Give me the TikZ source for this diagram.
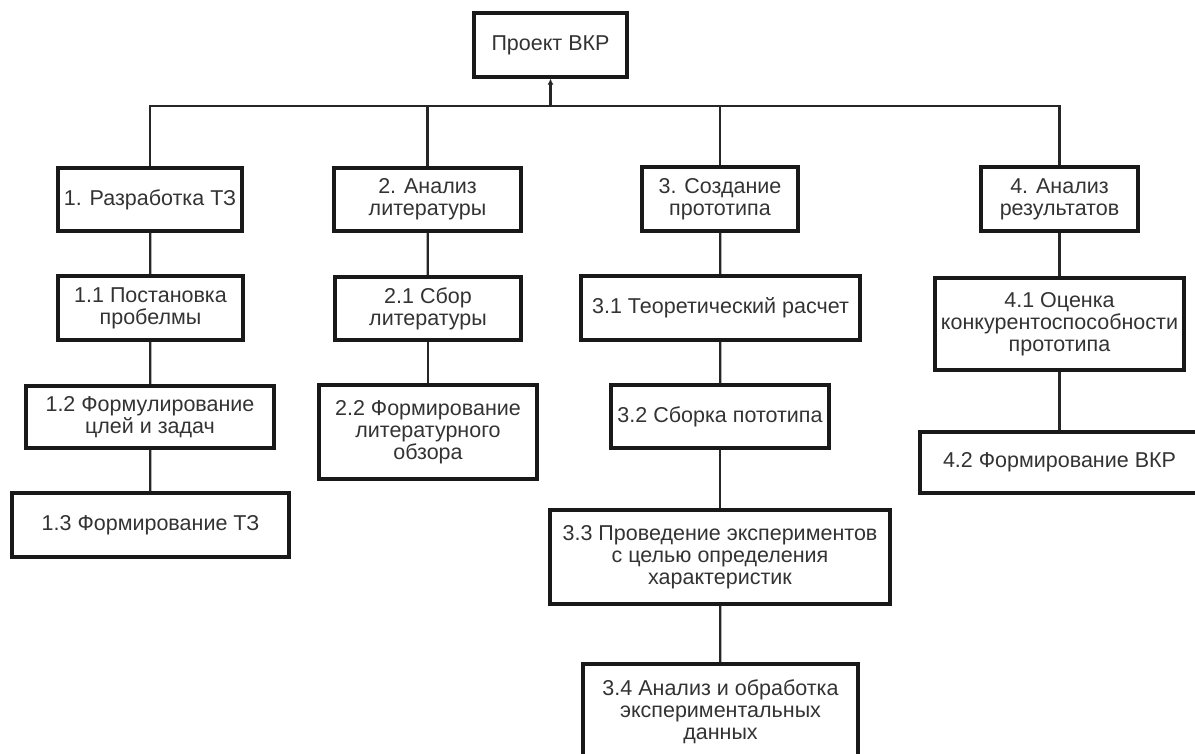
\documentclass[tikz,border=0pt]{standalone}
\usepackage{fontspec}
\setmainfont{Liberation Sans}
\usetikzlibrary{arrows.meta}
\begin{document}
\begin{tikzpicture}[x=1pt,y=-1pt,
  box/.style={draw=black!90, line width=3.2pt, fill=white, align=center, inner sep=2pt,
    text=black!80, font=\fontsize{21.5}{22}\selectfont},
  link/.style={draw=black!85, line width=2.2pt}]
\useasboundingbox (0,0) rectangle (1195,753);
\clip (0,0) rectangle (1195,753);
\fill[white] (0,0) rectangle (1195,753);
% root
\node[box, minimum width=153pt, minimum height=64pt] (top) at (550.5,45) {Проект ВКР};
% column 1
\node[box, minimum width=184pt, minimum height=63pt] (b1) at (150,199.5) {1. Разработка ТЗ};
\node[box, minimum width=185pt, minimum height=64pt] (b11) at (150.5,308) {1.1 Постановка\\пробелмы};
\node[box, minimum width=248pt, minimum height=62pt] (b12) at (150,417) {1.2 Формулирование\\цлей и задач};
\node[box, minimum width=277pt, minimum height=64pt] (b13) at (150.5,525) {1.3 Формирование ТЗ};
% column 2
\node[box, minimum width=187pt, minimum height=63pt] (b2) at (427.5,199.5) {2. Анализ\\литературы};
\node[box, minimum width=186pt, minimum height=63pt] (b21) at (428,308.5) {2.1 Сбор\\литературы};
\node[box, minimum width=218pt, minimum height=94pt] (b22) at (428,432) {2.2 Формирование\\литературного\\обзора};
% column 3
\node[box, minimum width=156pt, minimum height=64pt] (b3) at (720,199) {3. Создание\\прототипа};
\node[box, minimum width=279pt, minimum height=64pt] (b31) at (720.5,308) {3.1 Теоретический расчет};
\node[box, minimum width=218pt, minimum height=63pt] (b32) at (720,416.5) {3.2 Сборка пототипа};
\node[box, minimum width=340pt, minimum height=94pt] (b33) at (720,557) {3.3 Проведение экспериментов\\с целью определения\\характеристик};
\node[box, minimum width=275pt, minimum height=96pt] (b34) at (720.5,712) {3.4 Анализ и обработка\\экспериментальных\\данных};
% column 4
\node[box, minimum width=157pt, minimum height=64pt] (b4) at (1059.5,199) {4. Анализ\\результатов};
\node[box, minimum width=249pt, minimum height=92pt] (b41) at (1059.5,324) {4.1 Оценка\\конкурентоспособности\\прототипа};
\node[box, minimum width=279pt, minimum height=61pt] (b42) at (1059.5,462.5) {4.2 Формирование ВКР};
% bus
\coordinate (bus) at (550.5,106);
\draw[link] (b1.north) |- (bus) -| (b4.north);
\draw[link] (b2.north) -- (b2.north |- bus);
\draw[link] (b3.north) -- (b3.north |- bus);
\draw[link, -{Latex[length=6pt,width=6pt]}] (bus) -- (top.south);
% chains
\draw[link] (b1) -- (b11);
\draw[link] (b11) -- (b12);
\draw[link] (b12) -- (b13);
\draw[link] (b2) -- (b21);
\draw[link] (b21) -- (b22);
\draw[link] (b3) -- (b31);
\draw[link] (b31) -- (b32);
\draw[link] (b32) -- (b33);
\draw[link] (b33) -- (b34);
\draw[link] (b4) -- (b41);
\draw[link] (b41) -- (b42);
\end{tikzpicture}
\end{document}
